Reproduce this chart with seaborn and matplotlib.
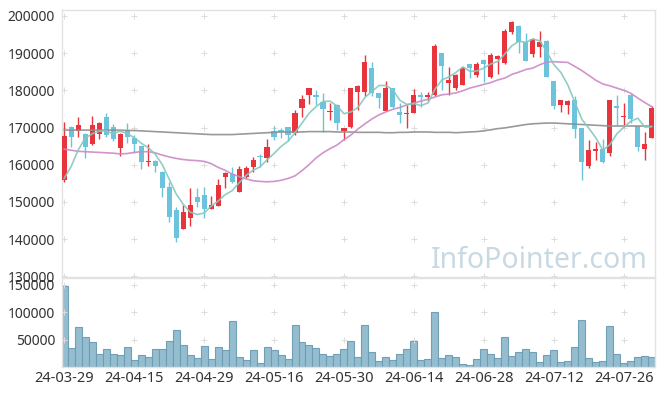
import numpy as np
import matplotlib
matplotlib.use("Agg")
import matplotlib.pyplot as plt
import seaborn as sns

# 일봉 데이터 (24-03-29 ~ 24-08-02, 85 거래일)
opens = [155900, 170100, 169100, 168300, 165600, 168300, 172800, 170100, 164500, 169300,
         167200, 165000, 160700, 161000, 158000, 154000, 147800, 142800, 145700, 151300,
         151800, 148200, 149000, 156600, 157500, 152700, 156800, 159500, 162300, 161900,
         169100, 169300, 170100, 168400, 175200, 178800, 178700, 176800, 174100, 176000,
         169100, 170200, 179600, 179600, 185900, 179200, 174500, 180550, 174250, 173550,
         174000, 178750, 178150, 178750, 189950, 181900, 180700, 181400, 187100, 184100,
         188150, 183700, 188400, 187300, 195800, 197300, 193100, 189800, 191600, 193300,
         182500, 176050, 176050, 177400, 169800, 159700, 163700, 164150, 163050, 175800,
         172750, 178750, 170400, 164200, 167250]
highs = [171500, 170400, 172800, 168500, 173100, 171600, 173900, 171000, 168400, 171200,
         168000, 165100, 165600, 161200, 158400, 155300, 148700, 149200, 153700, 153700,
         153900, 151600, 156100, 158100, 159500, 159700, 159600, 162200, 162800, 166800,
         170400, 169800, 170200, 174800, 178700, 180600, 180100, 179400, 176500, 176300,
         169900, 180600, 181400, 189400, 187500, 179300, 182600, 180700, 176500, 176000,
         180300, 179600, 179600, 192400, 190000, 186400, 184400, 186200, 187200, 187700,
         188300, 190000, 189400, 196400, 198700, 197600, 195500, 194000, 196000, 193400,
         182600, 177500, 177300, 178500, 169900, 166650, 166200, 166850, 177500, 178750,
         176500, 178900, 170500, 168900, 175800]
lows = [155400, 164800, 167500, 161800, 165300, 166900, 167500, 166400, 162300, 165800,
        163100, 158800, 159600, 158000, 151400, 144700, 139100, 142700, 143500, 148700,
        145700, 148100, 148900, 153800, 155000, 152600, 156400, 158100, 159500, 160600,
        166600, 167100, 166500, 168000, 172900, 176200, 176000, 168900, 172000, 169300,
        166600, 170000, 174700, 178500, 178500, 175200, 174400, 175300, 171100, 169800,
        173900, 175600, 177200, 178500, 180100, 178700, 180100, 181300, 183200, 183700,
        182300, 183200, 184400, 187100, 195200, 190100, 187900, 189000, 189000, 183500,
        174900, 174250, 173550, 167250, 155900, 159000, 161250, 160400, 162300, 170700,
        170200, 171300, 163700, 161250, 167100]
closes = [167700, 167500, 170700, 164800, 170700, 171200, 168000, 166900, 168300, 167500,
          165600, 160700, 161000, 159650, 153700, 146000, 140400, 147300, 149200, 150000,
          148200, 149200, 154500, 157700, 155400, 158800, 159200, 161300, 162150, 164800,
          167500, 168900, 167900, 173900, 177700, 180550, 178100, 174900, 174250, 171150,
          169900, 180550, 181200, 187550, 179200, 177850, 180550, 175450, 173350, 173800,
          178750, 178150, 178750, 191950, 186550, 182800, 184150, 185950, 185950, 187100,
          187000, 189500, 189250, 196000, 198300, 193100, 188000, 193750, 193100, 183650,
          175850, 177400, 177200, 169700, 160800, 163950, 164150, 160800, 177400, 175150,
          173100, 172200, 164700, 165550, 175350]
volumes = [148000, 33700, 73600, 54000, 44800, 24500, 31900, 24500, 22700, 35600,
           13500, 22700, 19000, 31900, 31900, 46600, 66900, 39300, 22700, 17200,
           37400, 15300, 35600, 30100, 83400, 19000, 13500, 30100, 8000, 35600,
           30100, 22700, 15300, 76100, 44800, 39300, 33700, 24500, 20900, 24500,
           31900, 46600, 19000, 76100, 28200, 11700, 19000, 13500, 24500, 31900,
           46600, 13500, 15300, 100000, 17200, 22700, 19000, 6100, 4300, 15300,
           31900, 24500, 17200, 54000, 20900, 28200, 31900, 26400, 9800, 22700,
           30100, 9800, 11700, 35600, 85300, 17200, 9800, 11700, 74200, 24500,
           8000, 11700, 19000, 20900, 19000]

# 이동평균선
ma5 = [156300, 159500, 163900, 167100, 168300, 169000, 169100, 168300, 169000, 168400,
       167300, 165800, 164600, 162900, 160100, 156200, 152200, 149400, 147300, 146600,
       147000, 148800, 150200, 151900, 153000, 155100, 157100, 158500, 159400, 161300,
       163000, 164900, 166300, 168600, 171200, 173800, 175600, 177000, 177100, 175800,
       173700, 174200, 175400, 178100, 179700, 181300, 181300, 180100, 177300, 176200,
       176400, 175900, 176600, 180300, 182800, 183600, 184800, 186300, 185100, 185200,
       186000, 187100, 187800, 189800, 192000, 193200, 192900, 193800, 193300, 190300,
       186900, 184800, 181400, 176800, 172200, 169800, 167200, 163900, 165400, 168300,
       170100, 171700, 172500, 170100, 170200]
ma20 = [164200, 163900, 163600, 163500, 163400, 163300, 163200, 163100, 162900, 163000,
        163300, 163500, 163500, 163200, 162600, 162100, 161700, 161400, 161200, 161100,
        160900, 160300, 159300, 158500, 157500, 156800, 156200, 155700, 155500, 155400,
        155500, 155800, 156300, 157000, 158400, 160000, 161800, 163200, 164300, 165300,
        166700, 168000, 169600, 171000, 172300, 173400, 174200, 174900, 175400, 176100,
        176600, 177100, 177600, 178200, 178800, 179000, 179300, 179900, 180600, 181100,
        181600, 182100, 182800, 183300, 184300, 184900, 185600, 186000, 186900, 187600,
        187700, 187600, 187500, 186400, 185300, 184000, 182700, 181700, 181200, 180600,
        180000, 179200, 177900, 176700, 175600]
ma60 = [169300, 169300, 169300, 169300, 169300, 169300, 169300, 169300, 169300, 169200,
        169200, 169100, 169000, 168900, 168800, 168700, 168600, 168500, 168400, 168300,
        168200, 168100, 168100, 168100, 168100, 168200, 168300, 168400, 168500, 168600,
        168700, 168800, 168800, 168800, 168800, 168900, 168900, 168900, 168900, 168800,
        168800, 168800, 168700, 168700, 168700, 168700, 168600, 168600, 168700, 168700,
        168800, 168800, 168800, 168700, 168700, 168700, 168600, 168700, 168800, 168900,
        169100, 169400, 169700, 169900, 170200, 170500, 170800, 171000, 171100, 171200,
        171200, 171100, 171000, 170900, 170800, 170700, 170600, 170500, 170400, 170400,
        170400, 170400, 170400, 170400, 170400]

tick_labels = ["24-03-29", "24-04-15", "24-04-29", "24-05-16", "24-05-30",
               "24-06-14", "24-06-28", "24-07-12", "24-07-26"]
price_ticks = [130000, 140000, 150000, 160000, 170000, 180000, 190000, 200000]
vol_ticks = [50000, 100000, 150000]

sns.set_style("white")
plt.rcParams['font.family'] = ['Noto Sans', 'DejaVu Sans']

UP = '#e8343c'
DOWN = '#6cc4dc'
GRID = '#e2e2e2'

idx = np.arange(len(closes))
o = np.array(opens)
c = np.array(closes)
up = c >= o
colors = np.where(up, UP, DOWN)

fig = plt.figure(figsize=(6.65, 3.96), dpi=100)
ax = fig.add_axes([62/665, 1 - 277/396, 593/665, 267/396])
axv = fig.add_axes([62/665, 1 - 367/396, 593/665, 89/396])

# 캔들
ax.vlines(idx, lows, highs, colors=colors, lw=1.0, zorder=3)
body_bottom = np.minimum(o, c)
body_h = np.maximum(np.abs(c - o), 280)
ax.bar(idx, body_h, bottom=body_bottom, width=0.72, color=colors, lw=0, zorder=4)

# 이동평균
sns.lineplot(x=idx, y=ma60, ax=ax, color='#8e8e8e', lw=1.2, alpha=0.9, zorder=5)
sns.lineplot(x=idx, y=ma20, ax=ax, color='#cc88c6', lw=1.2, alpha=0.9, zorder=5)
sns.lineplot(x=idx, y=ma5, ax=ax, color='#86c8bf', lw=1.2, alpha=0.9, zorder=5)

ax.text(0.988, 0.034, "InfoPointer.com", transform=ax.transAxes, ha='right', va='baseline',
        fontsize=20.5, color='#c8d9e3', zorder=2)

# 거래량
sns.barplot(x=idx, y=volumes, ax=axv, color='#8fbace', width=1.0, edgecolor='#6c9db4',
            linewidth=0.8, saturation=1, alpha=0.95)

xt = list(range(0, 81, 10))
for a, yt in ((ax, price_ticks), (axv, vol_ticks)):
    gx, gy = np.meshgrid(xt, yt)
    a.scatter(gx.ravel(), gy.ravel(), marker='+', s=14, color='#dcdcdc', lw=0.7, zorder=1)
    a.set_xlim(-0.3, 84.45)
    a.set_yticks(yt)
    a.set_yticklabels([str(v) for v in yt])
    a.tick_params(axis='both', length=0, labelsize=10, labelcolor='#333333', pad=5)
    for s in a.spines.values():
        s.set_color(GRID)
        s.set_linewidth(1.0)
    a.set_xlabel('')
    a.set_ylabel('')

ax.set_ylim(129800, 201600)
ax.set_xticks([])
axv.set_ylim(0, 162000)
axv.set_xticks(xt)
axv.set_xticklabels(tick_labels, fontsize=10.5)
axv.tick_params(axis='x', pad=3)

fig.savefig("out.png", dpi=100)
